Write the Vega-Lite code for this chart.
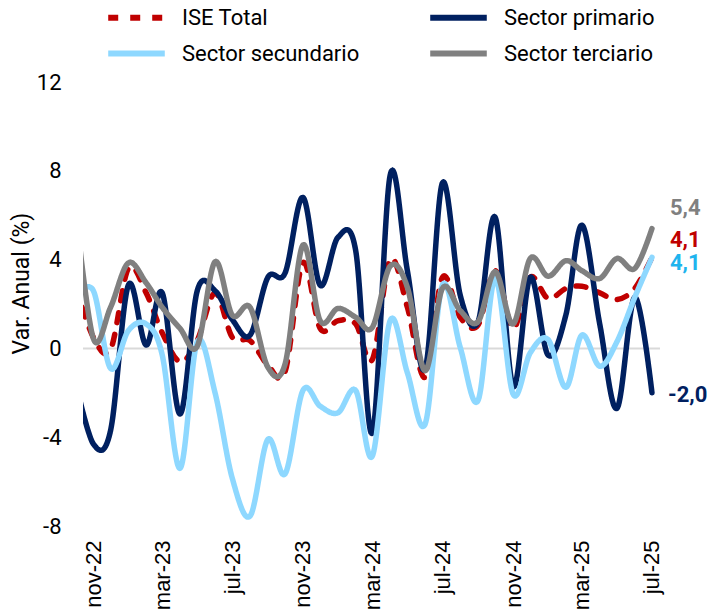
{
  "$schema": "https://vega.github.io/schema/vega-lite/v6.json",
  "width": 577,
  "height": 444,
  "autosize": {"type": "none"},
  "padding": {"left": 83, "top": 82, "right": 48, "bottom": 88},
  "background": "white",
  "config": {
    "view": {"stroke": null},
    "font": "Roboto",
    "locale": {"number": {"decimal": ",", "thousands": ".", "grouping": [3], "currency": ["$", ""], "minus": "-"}}
  },
  "data": {
    "values": [
      {"fecha": "2022-10-01", "ISE Total": 2.8, "Sector primario": -1.5, "Sector secundario": 2.3, "Sector terciario": 6.3},
      {"fecha": "2022-11-01", "ISE Total": 0.5, "Sector primario": -4.3, "Sector secundario": 2.6, "Sector terciario": 0.45},
      {"fecha": "2022-12-01", "ISE Total": -0.05, "Sector primario": -3.7, "Sector secundario": -0.9, "Sector terciario": 1.85},
      {"fecha": "2023-01-01", "ISE Total": 3.6, "Sector primario": 2.85, "Sector secundario": 0.8, "Sector terciario": 3.85},
      {"fecha": "2023-02-01", "ISE Total": 2.5, "Sector primario": 0.15, "Sector secundario": 1.1, "Sector terciario": 2.95},
      {"fecha": "2023-03-01", "ISE Total": 0.7, "Sector primario": 2.5, "Sector secundario": -0.3, "Sector terciario": 1.85},
      {"fecha": "2023-04-01", "ISE Total": -0.6, "Sector primario": -2.95, "Sector secundario": -5.4, "Sector terciario": 0.9},
      {"fecha": "2023-05-01", "ISE Total": 0.35, "Sector primario": 2.6, "Sector secundario": 0.3, "Sector terciario": 0.1},
      {"fecha": "2023-06-01", "ISE Total": 2.5, "Sector primario": 2.6, "Sector secundario": -2.0, "Sector terciario": 3.9},
      {"fecha": "2023-07-01", "ISE Total": 0.5, "Sector primario": 1.3, "Sector secundario": -5.85, "Sector terciario": 1.5},
      {"fecha": "2023-08-01", "ISE Total": 0.35, "Sector primario": 0.6, "Sector secundario": -7.55, "Sector terciario": 1.85},
      {"fecha": "2023-09-01", "ISE Total": -0.75, "Sector primario": 3.2, "Sector secundario": -4.1, "Sector terciario": -0.85},
      {"fecha": "2023-10-01", "ISE Total": -1.05, "Sector primario": 3.4, "Sector secundario": -5.65, "Sector terciario": -0.7},
      {"fecha": "2023-11-01", "ISE Total": 3.85, "Sector primario": 6.8, "Sector secundario": -1.9, "Sector terciario": 4.65},
      {"fecha": "2023-12-01", "ISE Total": 0.9, "Sector primario": 2.85, "Sector secundario": -2.6, "Sector terciario": 1.25},
      {"fecha": "2024-01-01", "ISE Total": 1.25, "Sector primario": 5.0, "Sector secundario": -2.9, "Sector terciario": 1.8},
      {"fecha": "2024-02-01", "ISE Total": 1.1, "Sector primario": 4.4, "Sector secundario": -1.9, "Sector terciario": 1.4},
      {"fecha": "2024-03-01", "ISE Total": -0.5, "Sector primario": -3.8, "Sector secundario": -4.85, "Sector terciario": 0.95},
      {"fecha": "2024-04-01", "ISE Total": 4.0, "Sector primario": 7.8, "Sector secundario": 1.25, "Sector terciario": 3.7},
      {"fecha": "2024-05-01", "ISE Total": 1.85, "Sector primario": 3.5, "Sector secundario": -1.1, "Sector terciario": 2.75},
      {"fecha": "2024-06-01", "ISE Total": -1.3, "Sector primario": -0.9, "Sector secundario": -3.4, "Sector terciario": -1.0},
      {"fecha": "2024-07-01", "ISE Total": 3.2, "Sector primario": 7.45, "Sector secundario": 2.85, "Sector terciario": 2.7},
      {"fecha": "2024-08-01", "ISE Total": 1.4, "Sector primario": 2.4, "Sector secundario": 0.05, "Sector terciario": 1.7},
      {"fecha": "2024-09-01", "ISE Total": 1.05, "Sector primario": 1.2, "Sector secundario": -2.35, "Sector terciario": 1.2},
      {"fecha": "2024-10-01", "ISE Total": 3.5, "Sector primario": 5.9, "Sector secundario": 3.15, "Sector terciario": 3.45},
      {"fecha": "2024-11-01", "ISE Total": 0.9, "Sector primario": -1.7, "Sector secundario": -2.05, "Sector terciario": 1.1},
      {"fecha": "2024-12-01", "ISE Total": 3.2, "Sector primario": 3.2, "Sector secundario": -0.2, "Sector terciario": 4.05},
      {"fecha": "2025-01-01", "ISE Total": 2.25, "Sector primario": -0.3, "Sector secundario": 0.4, "Sector terciario": 3.25},
      {"fecha": "2025-02-01", "ISE Total": 2.7, "Sector primario": 1.5, "Sector secundario": -1.75, "Sector terciario": 3.95},
      {"fecha": "2025-03-01", "ISE Total": 2.8, "Sector primario": 5.55, "Sector secundario": 0.6, "Sector terciario": 3.5},
      {"fecha": "2025-04-01", "ISE Total": 2.5, "Sector primario": 1.1, "Sector secundario": -0.8, "Sector terciario": 3.15},
      {"fecha": "2025-05-01", "ISE Total": 2.2, "Sector primario": -2.7, "Sector secundario": 0.3, "Sector terciario": 4.05},
      {"fecha": "2025-06-01", "ISE Total": 2.7, "Sector primario": 2.3, "Sector secundario": 2.3, "Sector terciario": 3.6},
      {"fecha": "2025-07-01", "ISE Total": 4.1, "Sector primario": -2.0, "Sector secundario": 4.1, "Sector terciario": 5.4}
    ],
    "format": {"parse": {"fecha": "date:'%Y-%m-%d'"}}
  },
  "transform": [
    {"fold": ["ISE Total", "Sector primario", "Sector secundario", "Sector terciario"], "as": ["serie", "valor"]}
  ],
  "layer": [
    {
      "data": {"values": [{"cero": 0}]},
      "mark": {"type": "rule", "color": "#D9D9D9", "strokeWidth": 2},
      "encoding": {
        "y": {"datum": 0}
      }
    },
    {
      "mark": {"type": "line", "interpolate": "cardinal", "tension": 0, "strokeWidth": 5.5, "strokeCap": "round", "strokeJoin": "round", "clip": true},
      "encoding": {
        "x": {
          "field": "fecha",
          "type": "temporal",
          "scale": {"domain": [{"year": 2022, "month": 10, "date": 14}, {"year": 2025, "month": 7, "date": 15}]},
          "axis": {
            "values": [
              {"year": 2022, "month": 11, "date": 1},
              {"year": 2023, "month": 3, "date": 1},
              {"year": 2023, "month": 7, "date": 1},
              {"year": 2023, "month": 11, "date": 1},
              {"year": 2024, "month": 3, "date": 1},
              {"year": 2024, "month": 7, "date": 1},
              {"year": 2024, "month": 11, "date": 1},
              {"year": 2025, "month": 3, "date": 1},
              {"year": 2025, "month": 7, "date": 1}
            ],
            "labelExpr": "lower(timeFormat(datum.value, '%b-%y'))",
            "labelAngle": -90,
            "labelAlign": "right",
            "labelBaseline": "middle",
            "labelFont": "Liberation Sans",
            "labelFontSize": 22,
            "labelColor": "#000000",
            "labelPadding": 14,
            "labelFlush": false,
            "labelOverlap": false,
            "ticks": false,
            "domain": false,
            "grid": false,
            "title": null
          }
        },
        "y": {
          "field": "valor",
          "type": "quantitative",
          "scale": {"domain": [-8, 12]},
          "axis": {
            "values": [-8, -4, 0, 4, 8, 12],
            "format": "d",
            "labelFont": "Roboto",
            "labelFontSize": 22,
            "labelColor": "#000000",
            "labelPadding": 22,
            "labelFlush": false,
            "ticks": false,
            "domain": false,
            "grid": false,
            "title": "Var. Anual (%)",
            "titleFont": "Roboto",
            "titleFontSize": 23,
            "titleFontWeight": "normal",
            "titleColor": "#000000",
            "titlePadding": 3,
            "titleY": 201
          }
        },
        "color": {
          "field": "serie",
          "type": "nominal",
          "scale": {
            "domain": ["ISE Total", "Sector primario", "Sector secundario", "Sector terciario"],
            "range": ["#C00000", "#002060", "#8ED8FF", "#808080"]
          },
          "legend": {
            "orient": "none",
            "direction": "horizontal",
            "legendX": 36,
            "legendY": -82,
            "columns": 2,
            "columnPadding": 58,
            "rowPadding": 6,
            "symbolType": "M-2,0H2",
            "symbolSize": 800,
            "symbolStrokeWidth": 6,
            "labelFont": "Roboto",
            "labelFontSize": 22,
            "labelColor": "#000000",
            "labelOffset": 28,
            "labelLimit": 400,
            "title": null
          }
        },
        "strokeDash": {
          "field": "serie",
          "type": "nominal",
          "scale": {
            "domain": ["ISE Total", "Sector primario", "Sector secundario", "Sector terciario"],
            "range": [[10, 12], [1, 0], [1, 0], [1, 0]]
          },
          "legend": {
            "orient": "none",
            "direction": "horizontal",
            "legendX": 36,
            "legendY": -82,
            "columns": 2,
            "columnPadding": 58,
            "rowPadding": 6,
            "symbolType": "M-2,0H2",
            "symbolSize": 800,
            "symbolStrokeWidth": 6,
            "labelFont": "Roboto",
            "labelFontSize": 22,
            "labelColor": "#000000",
            "labelOffset": 28,
            "labelLimit": 400,
            "title": null
          }
        }
      }
    },
    {
      "transform": [{"filter": "year(datum.fecha) === 2025 && month(datum.fecha) === 6 && datum.serie === 'Sector terciario'"}],
      "mark": {"type": "text", "font": "Roboto", "fontWeight": "bold", "fontSize": 22, "align": "left", "baseline": "middle", "dx": 18, "dy": -21, "color": "#808080"},
      "encoding": {
        "x": {"field": "fecha", "type": "temporal"},
        "y": {"field": "valor", "type": "quantitative"},
        "text": {"field": "valor", "type": "quantitative", "format": ".1f"}
      }
    },
    {
      "transform": [{"filter": "year(datum.fecha) === 2025 && month(datum.fecha) === 6 && datum.serie === 'ISE Total'"}],
      "mark": {"type": "text", "font": "Roboto", "fontWeight": "bold", "fontSize": 22, "align": "left", "baseline": "middle", "dx": 18, "dy": -17, "color": "#C00000"},
      "encoding": {
        "x": {"field": "fecha", "type": "temporal"},
        "y": {"field": "valor", "type": "quantitative"},
        "text": {"field": "valor", "type": "quantitative", "format": ".1f"}
      }
    },
    {
      "transform": [{"filter": "year(datum.fecha) === 2025 && month(datum.fecha) === 6 && datum.serie === 'Sector secundario'"}],
      "mark": {"type": "text", "font": "Roboto", "fontWeight": "bold", "fontSize": 22, "align": "left", "baseline": "middle", "dx": 18, "dy": 6, "color": "#1EB4EE"},
      "encoding": {
        "x": {"field": "fecha", "type": "temporal"},
        "y": {"field": "valor", "type": "quantitative"},
        "text": {"field": "valor", "type": "quantitative", "format": ".1f"}
      }
    },
    {
      "transform": [{"filter": "year(datum.fecha) === 2025 && month(datum.fecha) === 6 && datum.serie === 'Sector primario'"}],
      "mark": {"type": "text", "font": "Roboto", "fontWeight": "bold", "fontSize": 22, "align": "left", "baseline": "middle", "dx": 16, "dy": 2, "color": "#002060"},
      "encoding": {
        "x": {"field": "fecha", "type": "temporal"},
        "y": {"field": "valor", "type": "quantitative"},
        "text": {"field": "valor", "type": "quantitative", "format": ".1f"}
      }
    }
  ]
}
